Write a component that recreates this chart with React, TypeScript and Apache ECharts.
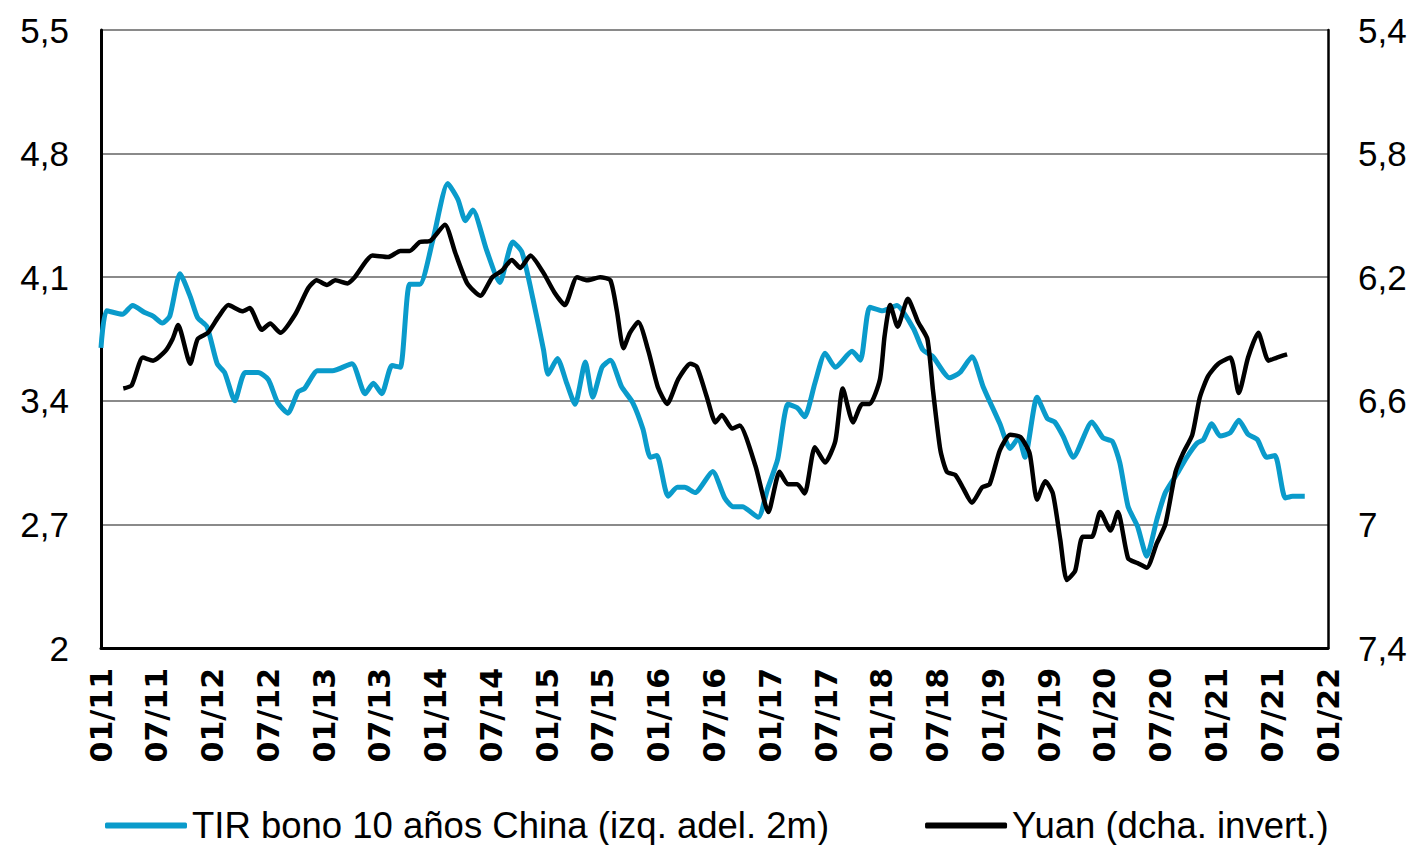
import React, { useEffect, useRef } from "react";
import * as echarts from "echarts";

// Months counted from January 2011 (0 = 01/11, 132 = 01/22)
const bondMonths = [
  0.0, 0.6, 2.3, 3.4, 4.7, 5.6, 6.6, 7.4, 8.5, 9.6, 10.4, 11.4, 12.5, 13.3, 14.4, 15.5,
  16.9, 18.0, 19.0, 20.1, 21.2, 21.9, 23.3, 24.9, 27.0, 28.4, 29.3, 30.2, 31.3, 32.2, 33.2,
  34.3, 35.7, 37.3, 38.4, 39.2, 40.0, 41.5, 42.9, 44.3, 45.3, 46.5, 47.6, 48.1, 49.1, 50.1,
  51.0, 52.1, 52.9, 53.9, 54.8, 56.0, 57.2, 58.3, 59.1, 59.8, 61.0, 62.0, 62.8, 63.9, 65.8,
  67.1, 68.0, 69.0, 70.7, 71.7, 72.8, 73.9, 74.9, 75.7, 76.8, 77.9, 79.0, 80.8, 81.7, 82.7,
  84.1, 85.6, 87.4, 88.4, 89.5, 91.3, 92.4, 93.7, 94.9, 96.7, 97.8, 98.7, 99.4, 100.7, 101.8,
  102.6, 103.5, 104.6, 106.6, 107.8, 108.8, 109.6, 110.5, 111.5, 112.5, 113.6, 114.5, 115.8,
  116.8, 117.9, 118.6, 119.5, 120.4, 121.5, 122.4, 123.4, 124.4, 125.4, 126.3, 127.4, 128.2,
  129.5,
];
// China 10-year bond yield (%), shifted 2 months ahead
const bondYield = [
  3.7, 3.91, 3.89, 3.94, 3.9, 3.88, 3.84, 3.88, 4.12, 3.99, 3.87, 3.82, 3.61, 3.56, 3.4, 3.56,
  3.56, 3.52, 3.39, 3.33, 3.45, 3.47, 3.57, 3.57, 3.61, 3.44, 3.5, 3.44, 3.6, 3.59, 4.06,
  4.06, 4.31, 4.63, 4.54, 4.42, 4.48, 4.25, 4.07, 4.3, 4.24, 3.97, 3.69, 3.55, 3.64, 3.5,
  3.38, 3.62, 3.42, 3.59, 3.63, 3.48, 3.39, 3.24, 3.08, 3.09, 2.86, 2.91, 2.91, 2.88, 3.0,
  2.85, 2.8, 2.8, 2.74, 2.9, 3.07, 3.38, 3.36, 3.31, 3.5, 3.67, 3.59, 3.68, 3.63, 3.93,
  3.91, 3.94, 3.81, 3.69, 3.65, 3.53, 3.56, 3.65, 3.48, 3.27, 3.13, 3.19, 3.08, 3.42, 3.3,
  3.28, 3.2, 3.08, 3.28, 3.19, 3.17, 3.05, 2.8, 2.69, 2.52, 2.73, 2.88, 2.99,
  3.08, 3.16, 3.18, 3.27, 3.2, 3.22, 3.29, 3.21, 3.18, 3.08, 3.09, 2.85, 2.86,
  2.86,
];

const yuanMonths = [
  2.4, 3.3, 4.5, 5.6, 6.9, 7.7, 8.3, 9.6, 10.4, 11.5, 12.6, 13.7, 15.2, 16.0, 17.3, 18.2,
  19.3, 20.9, 22.3, 23.2, 24.3, 25.2, 26.5, 27.3, 29.2, 30.9, 32.2, 33.2, 34.3, 35.4, 37.0,
  38.1, 39.4, 40.8, 42.1, 43.1, 44.2, 45.1, 46.2, 47.6, 48.8, 49.9, 51.2, 52.3, 53.7, 54.8,
  55.5, 56.2, 56.9, 57.8, 58.9, 59.9, 60.9, 62.1, 63.4, 64.1, 65.2, 66.1, 66.8, 67.9, 68.7,
  70.4, 71.8, 73.0, 73.9, 74.9, 75.7, 76.8, 77.9, 79.0, 79.8, 80.9, 81.9, 82.7, 83.8, 84.3,
  84.9, 85.7, 86.8, 87.9, 88.9, 89.5, 90.3, 91.0, 91.9, 92.7, 93.7, 94.8, 95.6, 96.7, 97.8,
  98.9, 99.9, 100.7, 101.6, 102.4, 103.2, 103.9, 104.8, 105.6, 106.6, 107.5, 108.6, 109.4,
  110.5, 111.5, 112.5, 113.6, 114.5, 115.6, 116.4, 117.4, 118.2, 119.1, 120.2, 121.5, 122.4,
  123.4, 124.5, 125.6, 126.5, 127.6,
];
// Yuan per dollar (right axis, inverted)
const yuanRate = [
  6.56, 6.55, 6.46, 6.47, 6.44, 6.4, 6.355, 6.48, 6.4, 6.38, 6.33, 6.29, 6.31, 6.3, 6.37, 6.35,
  6.38, 6.32, 6.235, 6.21, 6.225, 6.21, 6.22, 6.2, 6.13, 6.135, 6.115, 6.115, 6.086, 6.083, 6.03,
  6.12, 6.22, 6.26, 6.2, 6.18, 6.144, 6.17, 6.13, 6.186, 6.25, 6.29, 6.2, 6.21, 6.2, 6.21,
  6.31, 6.43, 6.38, 6.345, 6.44, 6.555, 6.61, 6.53, 6.48, 6.49, 6.59, 6.67, 6.646, 6.69, 6.68,
  6.81, 6.96, 6.83, 6.87, 6.87, 6.9, 6.75, 6.8, 6.73, 6.56, 6.67, 6.61, 6.61, 6.53, 6.39,
  6.29, 6.36, 6.27, 6.345, 6.4, 6.565, 6.76, 6.83, 6.84, 6.88, 6.93, 6.88, 6.87, 6.76, 6.71,
  6.717, 6.77, 6.92, 6.86, 6.9, 7.05, 7.18, 7.15, 7.04, 7.04, 6.96, 7.02, 6.96,
  7.11, 7.125, 7.14, 7.06, 7.0, 6.83, 6.77, 6.71, 6.59, 6.52, 6.48, 6.46, 6.575,
  6.46, 6.38, 6.47, 6.46, 6.45,
];

const seriesNames = ["TIR bono 10 años China (izq. adel. 2m)", "Yuan (dcha. invert.)"];

const BLUE = "#0A9BCB";
const SANS = "'Liberation Sans', Arial, sans-serif";

const fmtComma = (v: number) => String(Math.round(v * 10) / 10).replace(".", ",");
const fmtMonth = (m: number) => {
  const mm = Math.round(m) % 12 === 0 ? "01" : "07";
  const yy = 11 + Math.floor(Math.round(m) / 12);
  return `${mm}/${yy}`;
};

export default function App() {
  const ref = useRef<HTMLDivElement>(null);

  useEffect(() => {
    if (!ref.current) return;
    const chart = echarts.init(ref.current, null, { renderer: "svg" });
    chart.setOption({
      animation: false,
      backgroundColor: "#ffffff",
      grid: { left: 101, right: 85, top: 30, bottom: 197 },
      legend: {
        data: seriesNames,
        left: 105,
        top: 807,
        padding: 0,
        itemWidth: 82,
        itemHeight: 6,
        itemGap: 96,
        icon: "roundRect",
        textStyle: { fontFamily: SANS, fontSize: 36.5, lineHeight: 37, color: "#000" },
      },
      xAxis: {
        type: "value",
        min: 0,
        max: 132,
        interval: 6,
        axisLine: { show: true, onZero: false, lineStyle: { color: "#000", width: 3 } },
        axisTick: { show: false },
        splitLine: { show: false },
        axisLabel: {
          rotate: 90,
          margin: 20,
          formatter: fmtMonth,
          fontFamily: "'DejaVu Sans', sans-serif",
          fontWeight: "bold",
          fontSize: 30,
          color: "#000",
        },
      },
      yAxis: [
        {
          type: "value",
          min: 2,
          max: 5.5,
          interval: 0.7,
          position: "left",
          axisLine: { show: true, lineStyle: { color: "#000", width: 3 } },
          axisTick: { show: false },
          splitLine: { show: true, lineStyle: { color: "#8a8a8a", width: 2 } },
          axisLabel: { formatter: fmtComma, margin: 32, fontFamily: SANS, fontSize: 35, color: "#000" },
        },
        {
          type: "value",
          min: 5.4,
          max: 7.4,
          interval: 0.4,
          inverse: true,
          position: "right",
          axisLine: { show: true, lineStyle: { color: "#000", width: 2.5 } },
          axisTick: { show: false },
          splitLine: { show: false },
          axisLabel: { formatter: fmtComma, margin: 30, fontFamily: SANS, fontSize: 35, color: "#000" },
        },
      ],
      series: [
        {
          name: seriesNames[0],
          type: "line",
          yAxisIndex: 0,
          data: bondMonths.map((m, i) => [m, bondYield[i]]),
          showSymbol: false,
          smooth: 0.2,
          lineStyle: { color: BLUE, width: 5 },
          itemStyle: { color: BLUE },
        },
        {
          name: seriesNames[1],
          type: "line",
          yAxisIndex: 1,
          data: yuanMonths.map((m, i) => [m, yuanRate[i]]),
          showSymbol: false,
          smooth: 0.2,
          lineStyle: { color: "#000", width: 4.5 },
          itemStyle: { color: "#000" },
        },
      ],
    });
    return () => chart.dispose();
  }, []);

  return (
    <div
      ref={ref}
      style={{ position: "fixed", left: 0, top: 0, width: 1413, height: 845, background: "#fff" }}
    />
  );
}
